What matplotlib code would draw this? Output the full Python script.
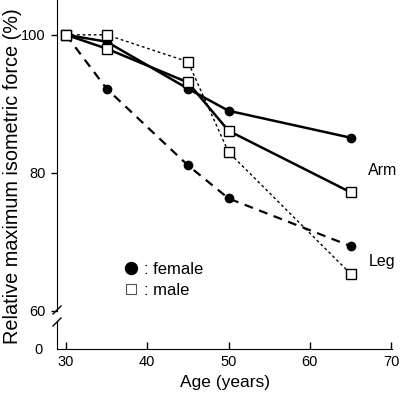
import matplotlib
matplotlib.use("Agg")
import matplotlib.pyplot as plt
from matplotlib.lines import Line2D

plt.rcParams['font.family'] = ['Liberation Sans', 'DejaVu Sans']

# donnees
ages = [30, 35, 45, 50, 65]
bras_femme = [100, 99.0, 92.2, 89.0, 85.1]
bras_homme = [100, 98.0, 93.1, 86.1, 77.2]
jambe_femme = [100, 92.2, 81.1, 76.3, 69.4]
jambe_homme = [100, 100.0, 96.1, 83.0, 65.4]

xticks = [30, 40, 50, 60, 70]
yticks_haut = [60, 80, 100]

W, H = 400, 395
fig = plt.figure(figsize=(W / 100, H / 100), dpi=100)

# axe principal (60-105)
ax = fig.add_axes([57 / W, 1 - 311 / H, 335 / W, 311 / H])
# axe du bas (0)
ax0 = fig.add_axes([57 / W, 1 - 349 / H, 335 / W, 28 / H])

for a in (ax, ax0):
    a.set_xlim(28.9, 70.1)
    a.patch.set_alpha(0)
    a.spines['top'].set_visible(False)
    a.spines['right'].set_visible(False)

ax.spines['bottom'].set_visible(False)
ax.set_ylim(60.29, 105.04)
ax.set_yticks(yticks_haut)
ax.tick_params(axis='y', direction='out', length=4, width=1, labelsize=10.5, pad=4)
ax.tick_params(axis='x', bottom=False, labelbottom=False)

ax0.set_ylim(0, 4)
ax0.set_yticks([0])
ax0.tick_params(axis='y', length=0, labelsize=10.5, pad=10)
ax0.set_xticks(xticks)
ax0.tick_params(axis='x', direction='in', length=5, width=1, labelsize=10.5, pad=4)
ax0.set_xlabel("Age (years)", fontsize=12.5, labelpad=5)

# courbes
kw_f = dict(marker='o', markersize=6, markerfacecolor='black', markeredgecolor='black', color='black')
kw_h = dict(marker='s', markersize=7, markerfacecolor='white', markeredgecolor='black',
            markeredgewidth=1, color='black')
ax.plot(ages, bras_femme, '-', lw=1.8, zorder=3, **kw_f)
ax.plot(ages, bras_homme, '-', lw=1.8, zorder=3, **kw_h)
ax.plot(ages, jambe_femme, lw=1.6, dashes=(4, 3), zorder=3, **kw_f)
ax.plot(ages, jambe_homme, lw=1.0, dashes=(2, 2), zorder=3, **kw_h)

ax.text(67.2, 80.3, "Arm", fontsize=11.5, va='center', ha='left')
ax.text(67.2, 67.2, "Leg", fontsize=11.5, va='center', ha='left')

poignees = [
    Line2D([], [], linestyle='none', marker='o', markersize=8.6, markerfacecolor='black', markeredgecolor='black'),
    Line2D([], [], linestyle='none', marker='s', markersize=6.5, markerfacecolor='white', markeredgecolor='#555555',
           markeredgewidth=0.8),
]
ax.legend(poignees, [": female", ": male"], loc='upper left', bbox_to_anchor=(0.176, 0.18),
          frameon=False, fontsize=12, handlelength=1.0, handletextpad=0.3, labelspacing=0.35,
          borderaxespad=0)

fig.text(13 / W, 0.554, "Relative maximum isometric force (%)", rotation=90,
         fontsize=14.3, va='center', ha='center')

# coupure de l'axe
def px(x, y):
    return x / W, 1 - y / H

for (x1, y1), (x2, y2) in [((53, 314), (61, 306)), ((53, 326), (61, 318))]:
    a1, b1 = px(x1, y1)
    a2, b2 = px(x2, y2)
    fig.add_artist(Line2D([a1, a2], [b1, b2], color='black', lw=1.0, transform=fig.transFigure))

fig.savefig("out.png", dpi=100)
